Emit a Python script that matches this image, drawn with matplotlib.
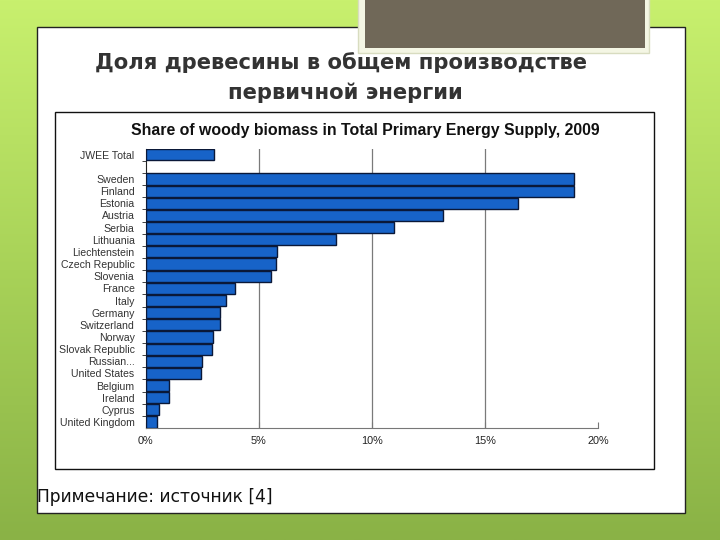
import matplotlib
matplotlib.use('Agg')
import matplotlib.pyplot as plt
import numpy as np
from matplotlib.patches import Rectangle
from matplotlib.colors import LinearSegmentedColormap

# ---- data ----
categories = ["JWEE Total", "", "Sweden", "Finland", "Estonia", "Austria", "Serbia",
              "Lithuania", "Liechtenstein", "Czech Republic", "Slovenia", "France",
              "Italy", "Germany", "Switzerland", "Norway", "Slovak Republic",
              "Russian...", "United States", "Belgium", "Ireland", "Cyprus",
              "United Kingdom"]
values = [3.02, np.nan, 18.93, 18.93, 16.44, 13.12, 10.99, 8.41, 5.79, 5.74, 5.55,
          3.93, 3.54, 3.30, 3.27, 2.96, 2.92, 2.49, 2.44, 1.04, 1.02, 0.57, 0.51]
xticks = [0, 5, 10, 15, 20]
xtick_labels = ["0%", "5%", "10%", "15%", "20%"]
chart_title = "Share of woody biomass in Total Primary Energy Supply, 2009"
slide_title_1 = "Доля древесины в общем производстве"
slide_title_2 = "первичной энергии"
note = "Примечание: источник [4]"

W, H = 720, 540
fig = plt.figure(figsize=(7.2, 5.4), dpi=100)

# ---- background slide decoration (pixel coords) ----
bg = fig.add_axes([0, 0, 1, 1])
bg.set_xlim(0, W)
bg.set_ylim(H, 0)
bg.axis('off')
grad = np.linspace(0, 1, 256).reshape(-1, 1)
cmap = LinearSegmentedColormap.from_list('g', ['#c8f06e', '#a8d258', '#8ab246'])
bg.imshow(grad, aspect='auto', cmap=cmap, extent=[0, W, H, 0], zorder=0)
bg.add_patch(Rectangle((37, 27), 648, 486, facecolor='white', edgecolor='#222222', lw=1.0, zorder=1))
bg.add_patch(Rectangle((358, -2), 291, 55, facecolor='#f4f6e4', edgecolor='#d8dcc0', lw=1.0, zorder=2))
bg.add_patch(Rectangle((365, -2), 280, 50, facecolor='#706858', edgecolor='none', zorder=3))
bg.add_patch(Rectangle((55, 111.5), 599, 357, facecolor='white', edgecolor='#111111', lw=1.0, zorder=2))

fig.text(341 / W, 1 - 63 / H, slide_title_1, ha='center', va='center', fontsize=15.2,
         fontweight='bold', color='#333333', family='DejaVu Sans')
fig.text(345 / W, 1 - 93 / H, slide_title_2, ha='center', va='center', fontsize=15.2,
         fontweight='bold', color='#333333', family='DejaVu Sans')
fig.text(37 / W, 1 - 497 / H, note, ha='left', va='center', fontsize=12.3,
         color='#111111', family='DejaVu Sans')
fig.text(365.5 / W, 1 - 131 / H, chart_title, ha='center', va='center', fontsize=11.4,
         fontweight='bold', color='#111111', family='Liberation Sans')

# ---- chart ----
left, right, top, bottom = 145.7, 598.3, 148.6, 428.1
ax = fig.add_axes([left / W, 1 - bottom / H, (right - left) / W, (bottom - top) / H])
ax.set_facecolor('none')
rows = np.arange(len(categories))
vals = np.array(values, dtype=float)
mask = ~np.isnan(vals)
ax.barh(rows[mask], vals[mask], height=0.92, color='#1763c8', edgecolor='#0a1838',
        linewidth=1.0, zorder=3)
ax.set_ylim(len(categories) - 0.5, -0.5)
ax.set_xlim(0, 20)
for x in xticks[1:-1]:
    ax.axvline(x, color='#7a7a7a', lw=0.9, zorder=1)
ax.set_xticks(xticks)
ax.set_xticklabels(xtick_labels, family='Liberation Sans', fontsize=7.8, color='#222222')
ax.tick_params(axis='x', direction='in', length=4, color='#777777', pad=6)
ax.set_yticks(rows)
ax.set_yticklabels(categories, family='Liberation Sans', fontsize=7.6, color='#333333')
ax.tick_params(axis='y', which='major', length=0, pad=8)
ax.set_yticks(rows[:-1] + 0.5, minor=True)
ax.tick_params(axis='y', which='minor', length=3, color='#222222', direction='out')
for s in ['top', 'right']:
    ax.spines[s].set_visible(False)
ax.spines['bottom'].set_color('#777777')
ax.spines['left'].set_color('#222222')
ax.spines['left'].set_linewidth(0.8)

fig.savefig('out.png', dpi=100)
